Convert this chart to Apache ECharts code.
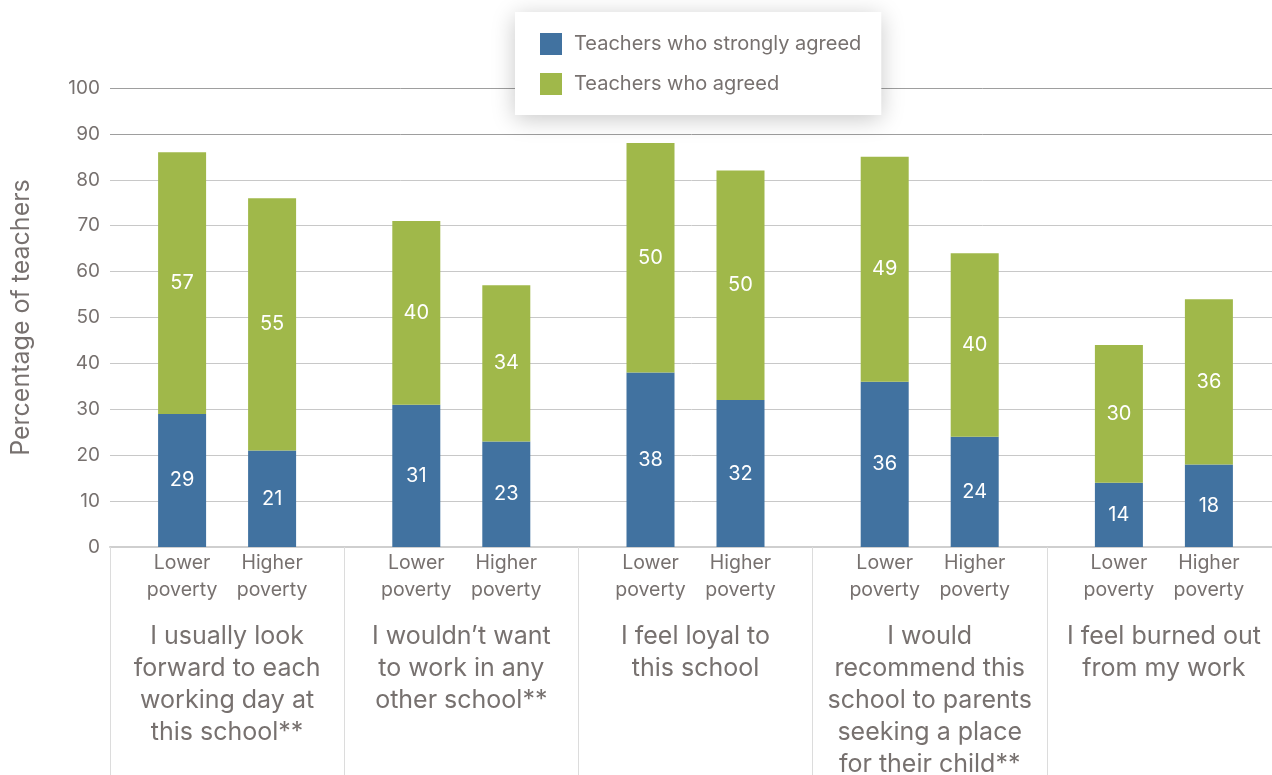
<!DOCTYPE html>
<html>
<head>
<meta charset="utf-8">
<script src="https://cdn.jsdelivr.net/npm/echarts@6/dist/echarts.min.js"></script>
<style>
html,body{margin:0;padding:0;background:#fff;}
#chart{width:1272px;height:775px;}
</style>
</head>
<body>
<div id="chart"></div>
<script>
const statements = [
  'I usually look\nforward to each\nworking day at\nthis school**',
  'I wouldn\u2019t want\nto work in any\nother school**',
  'I feel loyal to\nthis school',
  'I would\nrecommend this\nschool to parents\nseeking a place\nfor their child**',
  'I feel burned out\nfrom my work'
];
const povertyLevels = ['Lower\npoverty', 'Higher\npoverty'];
const seriesNames = ['Teachers who strongly agreed', 'Teachers who agreed'];
const strongLower  = [29, 31, 38, 36, 14];
const agreeLower   = [57, 40, 50, 49, 30];
const strongHigher = [21, 23, 32, 24, 18];
const agreeHigher  = [55, 34, 50, 40, 36];
const yTicks = [0, 10, 20, 30, 40, 50, 60, 70, 80, 90, 100];

const FONT = 'Inter, "Liberation Sans", Arial, sans-serif';
const GRAY = '#77716f';
const BLUE = '#4172a0';
const GREEN = '#a0b84a';

const lowerParts = povertyLevels[0].split('\n');
const higherParts = povertyLevels[1].split('\n');
const subLabel = lowerParts.map((p, i) => '{l|' + p + '}{h|' + higherParts[i] + '}').join('\n');

function barSeries(name, stack, data, color) {
  return {
    type: 'bar', name: name, stack: stack, data: data,
    barWidth: 48, barGap: '87.5%',
    itemStyle: { color: color },
    label: { show: true, position: 'inside', color: '#fff', fontSize: 20, fontFamily: FONT },
    emphasis: { disabled: true }
  };
}

const chart = echarts.init(document.getElementById('chart'), null, { renderer: 'canvas' });
chart.setOption({
  animation: false,
  backgroundColor: '#fff',
  textStyle: { fontFamily: FONT },
  legend: {
    data: seriesNames,
    orient: 'vertical',
    left: 515, top: 12,
    padding: [21, 20, 20, 25],
    itemWidth: 22, itemHeight: 22, itemGap: 18,
    icon: 'rect',
    backgroundColor: '#fff',
    shadowBlur: 22, shadowColor: 'rgba(0,0,0,0.22)', shadowOffsetY: 4,
    textStyle: { color: GRAY, fontSize: 20, fontFamily: FONT, padding: [0, 0, 0, 7] }
  },
  grid: { left: 110, top: 88, height: 459, width: 1171, containLabel: false, outerBoundsMode: 'none' },
  xAxis: [
    {
      type: 'category', data: statements,
      axisLine: { show: true, lineStyle: { color: '#cfcfcf', width: 2 } },
      axisTick: { show: true, length: 230, lineStyle: { color: '#dcdcdc', width: 1 } },
      axisLabel: {
        interval: 0, margin: 3,
        formatter: function () { return subLabel; },
        rich: {
          l: { width: 90, align: 'center', fontSize: 19.5, lineHeight: 27, color: GRAY, fontFamily: FONT },
          h: { width: 90, align: 'center', fontSize: 19.5, lineHeight: 27, color: GRAY, fontFamily: FONT }
        }
      }
    },
    {
      type: 'category', data: statements, position: 'bottom', offset: 73,
      axisLine: { show: false }, axisTick: { show: false },
      axisLabel: { interval: 0, margin: 0, fontSize: 25, lineHeight: 32, color: GRAY, fontFamily: FONT, verticalAlign: 'top' }
    }
  ],
  yAxis: {
    type: 'value', min: yTicks[0], max: yTicks[yTicks.length - 1], interval: 10,
    name: 'Percentage of teachers', nameLocation: 'middle', nameGap: 76,
    nameTextStyle: { color: GRAY, fontSize: 25, fontFamily: FONT },
    axisLine: { show: false }, axisTick: { show: false },
    axisLabel: { color: GRAY, fontSize: 19, margin: 10, fontFamily: FONT },
    splitLine: { lineStyle: { color: ['#cfcfcf','#c8c8c8','#c8c8c8','#c8c8c8','#c8c8c8','#c8c8c8','#c8c8c8','#c8c8c8','#c8c8c8','#9e9e9e','#9e9e9e'], width: 1 } }
  },
  series: [
    barSeries(seriesNames[0], 'lower', strongLower, BLUE),
    barSeries(seriesNames[1], 'lower', agreeLower, GREEN),
    barSeries(seriesNames[0], 'higher', strongHigher, BLUE),
    barSeries(seriesNames[1], 'higher', agreeHigher, GREEN)
  ]
});
</script>
</body>
</html>
